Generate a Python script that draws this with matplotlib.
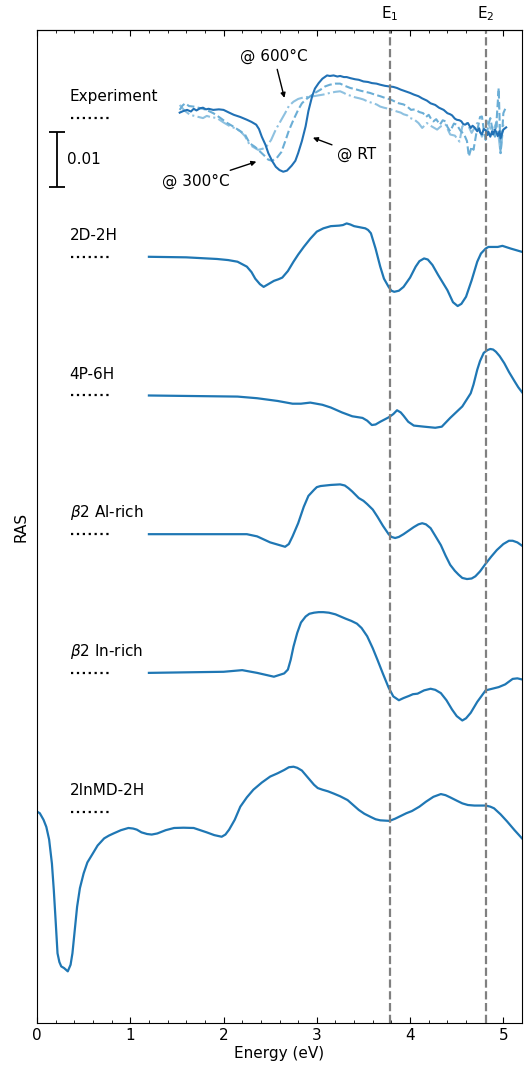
from matplotlib import pyplot as plt
import numpy as np

# RAS values are in units of 1e-3 (scale bar = 0.01 = 10 units)
E1 = 3.78
E2 = 4.81
spacing = 25.35

labels = ["Experiment", "2D-2H", "4P-6H", r"$\beta$2 Al-rich", r"$\beta$2 In-rich", "2InMD-2H"]

# experiment
e_rt = [1.53, 1.57, 1.61, 1.65, 1.68, 1.71, 1.75, 1.78, 1.81, 1.84, 1.89, 1.95, 2.00, 2.06, 2.11,
        2.18, 2.25, 2.30, 2.35, 2.38, 2.41, 2.45, 2.48, 2.52, 2.56, 2.60, 2.64, 2.68, 2.73, 2.77,
        2.80, 2.84, 2.88, 2.91, 2.95, 2.98, 3.02, 3.06, 3.11, 3.14, 3.18, 3.22, 3.25, 3.29, 3.32,
        3.36, 3.41, 3.45, 3.50, 3.55, 3.59, 3.64, 3.68, 3.73, 3.77, 3.82, 3.86, 3.90, 3.95, 4.00,
        4.04, 4.09, 4.13, 4.18, 4.22, 4.27, 4.31, 4.36, 4.40, 4.43, 4.45, 4.48, 4.50, 4.53, 4.55,
        4.57, 4.59, 4.62, 4.65, 4.67, 4.69, 4.72, 4.74, 4.75, 4.77, 4.79, 4.81, 4.83, 4.84, 4.86,
        4.88, 4.89, 4.91, 4.93, 4.94, 4.96, 4.97, 4.99, 5.00, 5.03]
ras_rt = [1.0, 1.3, 1.5, 1.2, 1.7, 1.4, 1.8, 1.9, 1.6, 1.7, 1.5, 1.6, 1.5, 1.0, 0.6,
          0.2, -0.3, -0.7, -1.2, -2.0, -3.4, -4.9, -6.4, -7.8, -8.9, -9.5, -9.8, -9.6, -8.7, -7.8,
          -6.4, -4.2, -1.5, 1.3, 4.0, 5.4, 6.4, 7.2, 7.8, 7.7, 7.8, 7.6, 7.7, 7.5, 7.5,
          7.3, 7.1, 7.0, 6.7, 6.6, 6.4, 6.3, 6.1, 5.9, 5.8, 5.7, 5.5, 5.2, 4.9, 4.6,
          4.3, 4.0, 3.6, 3.2, 2.7, 2.4, 1.9, 1.5, 0.9, 0.7, 0.5, -0.1, -0.3, -0.4, -0.6,
          -1.1, -1.2, -0.9, -1.8, -1.4, -1.7, -2.4, -1.9, -2.6, -3.0, -2.0, -2.2, -3.1, -2.5, -3.4,
          -2.4, -3.0, -2.1, -2.8, -3.3, -2.4, -3.7, -2.6, -2.1, -1.7]

e_300 = [1.53, 1.56, 1.59, 1.63, 1.68, 1.73, 1.78, 1.84, 1.89, 1.96, 2.04, 2.11, 2.18, 2.23, 2.28,
         2.34, 2.39, 2.44, 2.48, 2.52, 2.57, 2.62, 2.66, 2.70, 2.75, 2.80, 2.84, 2.89, 2.93, 2.98,
         3.04, 3.09, 3.14, 3.20, 3.25, 3.30, 3.36, 3.41, 3.47, 3.52, 3.57, 3.62, 3.68, 3.73, 3.79,
         3.84, 3.88, 3.93, 3.97, 4.01, 4.05, 4.10, 4.14, 4.17, 4.20, 4.23, 4.25, 4.28, 4.32, 4.35,
         4.38, 4.40, 4.43, 4.47, 4.50, 4.54, 4.58, 4.61, 4.63, 4.66, 4.68, 4.71, 4.73, 4.75, 4.77,
         4.79, 4.81, 4.84, 4.86, 4.88, 4.91, 4.93, 4.95, 4.97, 4.99, 5.00, 5.03]
ras_300 = [1.5, 2.3, 2.7, 2.2, 2.1, 1.9, 1.7, 1.3, 0.9, 0.1, -0.9, -1.6, -2.4, -3.0, -4.6,
           -5.3, -6.1, -6.9, -7.6, -7.8, -7.3, -6.2, -4.3, -2.3, -0.3, 1.5, 2.7, 3.5, 4.0, 4.6,
           5.2, 5.8, 6.1, 6.3, 6.3, 5.9, 5.5, 5.3, 5.0, 4.8, 4.6, 4.3, 4.0, 3.7, 3.4,
           3.0, 2.7, 2.5, 2.1, 1.5, 1.6, 1.1, 0.9, 0.2, 0.6, -0.3, -0.6, -0.2, -1.2, -0.4,
           -0.6, -1.6, -2.4, -1.0, -1.2, -2.3, -3.0, -4.2, -7.0, -5.2, -5.8, -2.8, -1.5, 0.2, 0.3,
           -2.1, -4.0, -1.2, 0.0, -1.8, -3.4, 0.2, 5.5, -6.4, -2.0, 0.9, 2.1]

e_600 = [1.53, 1.58, 1.64, 1.71, 1.78, 1.82, 1.86, 1.93, 2.00, 2.07, 2.13, 2.18, 2.23, 2.28, 2.33,
         2.37, 2.42, 2.46, 2.51, 2.56, 2.61, 2.66, 2.70, 2.75, 2.80, 2.86, 2.93, 3.00, 3.07, 3.14,
         3.20, 3.25, 3.29, 3.32, 3.36, 3.41, 3.46, 3.50, 3.55, 3.59, 3.64, 3.68, 3.72, 3.77, 3.81,
         3.86, 3.90, 3.93, 3.97, 4.00, 4.04, 4.09, 4.13, 4.18, 4.21, 4.24, 4.29, 4.33, 4.38, 4.43,
         4.48, 4.53, 4.56, 4.61, 4.66, 4.72, 4.77, 4.83, 4.88, 4.93, 4.97, 5.00]
ras_600 = [2.4, 1.4, 0.6, 0.3, 0.0, 0.4, 0.2, 0.0, -0.8, -1.5, -1.9, -2.4, -3.3, -4.9, -5.4,
           -5.8, -5.6, -5.2, -4.0, -2.1, -0.6, 0.9, 2.2, 3.0, 3.5, 3.8, 3.9, 4.1, 4.3, 4.6,
           4.8, 4.9, 4.6, 4.3, 4.1, 3.8, 3.6, 3.4, 3.0, 2.8, 2.5, 2.1, 1.9, 1.7, 1.5,
           1.2, 1.0, 0.7, 0.5, 0.0, -0.2, -0.9, -1.8, -0.9, -1.3, -1.6, -2.1, -1.5, -1.2, -3.0,
           -3.2, -4.3, -1.5, -0.9, -2.7, -0.9, -3.4, -0.6, -2.7, -0.6, -6.4, -1.2]

# theory
e_2d2h = [1.20, 1.60, 1.93, 2.05, 2.15, 2.25, 2.30, 2.34, 2.39, 2.43, 2.47, 2.54, 2.59, 2.63, 2.69,
          2.75, 2.80, 2.86, 2.93, 3.00, 3.07, 3.15, 3.24, 3.28, 3.32, 3.36, 3.40, 3.46, 3.52, 3.55,
          3.58, 3.63, 3.68, 3.72, 3.77, 3.80, 3.83, 3.88, 3.93, 4.00, 4.06, 4.10, 4.15, 4.19, 4.24,
          4.30, 4.40, 4.46, 4.51, 4.55, 4.60, 4.66, 4.72, 4.76, 4.81, 4.84, 4.88, 4.94, 4.99, 5.08,
          5.20]
ras_2d2h = [0.0, -0.1, -0.4, -0.6, -0.9, -1.8, -2.8, -4.0, -5.0, -5.5, -5.1, -4.4, -4.1, -3.8, -2.6,
            -0.9, 0.4, 1.8, 3.3, 4.6, 5.2, 5.6, 5.7, 5.8, 6.1, 5.9, 5.6, 5.4, 5.2, 4.9,
            4.3, 1.5, -1.8, -4.0, -5.5, -6.2, -6.4, -6.2, -5.5, -3.8, -1.8, -0.8, -0.3, -0.5, -1.5,
            -3.3, -6.1, -8.3, -9.0, -8.6, -7.3, -4.3, -0.9, 0.6, 1.5, 1.8, 1.8, 1.8, 2.0, 1.5,
            0.9]

e_4p6h = [1.20, 2.15, 2.36, 2.58, 2.74, 2.83, 2.93, 3.06, 3.15, 3.27, 3.38, 3.49, 3.54, 3.59,
          3.63, 3.68, 3.77, 3.82, 3.86, 3.90, 3.93, 3.98, 4.04, 4.15, 4.27, 4.34, 4.43, 4.56, 4.65,
          4.68, 4.72, 4.75, 4.79, 4.83, 4.86, 4.89, 4.92, 4.96, 5.01, 5.06, 5.12, 5.16, 5.20]
ras_4p6h = [0.0, -0.2, -0.5, -1.0, -1.5, -1.5, -1.3, -1.7, -2.2, -3.1, -3.8, -4.1, -4.6, -5.4,
            -5.3, -4.8, -4.0, -3.4, -2.7, -3.1, -3.7, -4.8, -5.5, -5.7, -5.9, -5.7, -4.1, -2.0, 0.4,
            2.0, 4.7, 6.3, 7.8, 8.3, 8.5, 8.4, 8.0, 7.2, 5.9, 4.3, 2.6, 1.5, 0.6]

e_alrich = [1.20, 2.25, 2.36, 2.50, 2.60, 2.66, 2.70, 2.74, 2.80, 2.86, 2.91, 2.97, 3.00, 3.04,
            3.15, 3.25, 3.30, 3.34, 3.38, 3.45, 3.50, 3.54, 3.60, 3.65, 3.71, 3.77, 3.80, 3.84,
            3.88, 3.93, 4.04, 4.09, 4.13, 4.17, 4.22, 4.27, 4.33, 4.38, 4.43, 4.48, 4.52, 4.56,
            4.61, 4.66, 4.70, 4.75, 4.81, 4.87, 4.93, 5.00, 5.06, 5.10, 5.15, 5.20]
ras_alrich = [0.0, 0.0, -0.4, -1.5, -2.0, -2.3, -1.8, -0.4, 2.0, 5.0, 7.0, 8.1, 8.6, 8.8,
              9.0, 9.1, 8.9, 8.4, 7.8, 6.6, 6.1, 5.5, 4.5, 3.2, 1.5, 0.0, -0.5, -0.7,
              -0.5, 0.0, 1.3, 1.8, 2.0, 1.8, 1.1, -0.3, -2.0, -3.9, -5.6, -6.7, -7.4, -8.0,
              -8.2, -8.1, -7.7, -6.8, -5.4, -4.1, -2.9, -1.8, -1.2, -1.2, -1.5, -2.1]

e_inrich = [1.20, 2.00, 2.20, 2.36, 2.54, 2.65, 2.69, 2.72, 2.75, 2.79, 2.83, 2.88, 2.92, 2.97,
            3.02, 3.07, 3.13, 3.20, 3.31, 3.37, 3.43, 3.48, 3.54, 3.60, 3.65, 3.71, 3.77, 3.82,
            3.88, 3.93, 3.99, 4.03, 4.08, 4.15, 4.22, 4.27, 4.33, 4.39, 4.45, 4.50, 4.56, 4.60,
            4.65, 4.72, 4.81, 4.88, 4.95, 5.02, 5.10, 5.15, 5.20]
ras_inrich = [0.0, 0.2, 0.5, 0.0, -0.7, -0.1, 0.6, 2.4, 4.8, 7.3, 9.2, 10.3, 10.8, 11.0,
              11.1, 11.1, 11.0, 10.7, 9.9, 9.5, 9.0, 8.2, 6.7, 4.5, 2.4, -0.2, -2.7, -4.3,
              -5.0, -4.6, -4.2, -3.9, -3.8, -3.2, -2.9, -3.1, -3.7, -5.0, -6.7, -7.9, -8.7, -8.3,
              -7.3, -5.3, -3.2, -2.9, -2.6, -2.1, -1.1, -1.0, -1.2]

e_2inmd = [0.00, 0.03, 0.07, 0.10, 0.13, 0.16, 0.18, 0.20, 0.22, 0.24, 0.26, 0.29, 0.33, 0.36,
           0.38, 0.40, 0.43, 0.46, 0.50, 0.54, 0.59, 0.65, 0.72, 0.77, 0.82, 0.90, 0.98, 1.03,
           1.07, 1.12, 1.18, 1.23, 1.29, 1.38, 1.47, 1.57, 1.68, 1.75, 1.82, 1.90, 1.98, 2.02,
           2.06, 2.12, 2.18, 2.25, 2.32, 2.41, 2.50, 2.58, 2.65, 2.70, 2.75, 2.79, 2.84, 2.90,
           2.97, 3.01, 3.06, 3.12, 3.18, 3.25, 3.33, 3.39, 3.45, 3.51, 3.58, 3.63, 3.68, 3.78,
           3.84, 3.90, 3.96, 4.02, 4.10, 4.17, 4.25, 4.33, 4.38, 4.43, 4.50, 4.56, 4.62, 4.69,
           4.75, 4.81, 4.86, 4.90, 4.97, 5.04, 5.12, 5.20]
ras_2inmd = [0.0, -0.3, -1.5, -2.8, -5.1, -9.5, -14.3, -20.0, -25.9, -27.5, -28.3, -28.6, -29.2, -28.0,
             -25.9, -22.5, -17.4, -14.0, -11.3, -9.3, -7.9, -6.2, -4.9, -4.4, -4.0, -3.4, -3.0, -3.1,
             -3.3, -3.8, -4.1, -4.2, -4.0, -3.4, -3.0, -2.95, -3.0, -3.4, -3.8, -4.3, -4.6, -4.2,
             -3.3, -1.5, 0.9, 2.6, 4.0, 5.3, 6.4, 7.0, 7.6, 8.1, 8.2, 8.0, 7.5, 6.3,
             4.9, 4.3, 4.0, 3.7, 3.3, 2.8, 2.1, 1.2, 0.3, -0.4, -1.0, -1.4, -1.6, -1.7,
             -1.3, -0.8, -0.3, 0.1, 0.9, 1.8, 2.7, 3.2, 3.0, 2.6, 2.0, 1.5, 1.2, 1.1,
             1.1, 1.1, 0.9, 0.6, -0.5, -1.8, -3.4, -4.9]

theory = [(e_2d2h, ras_2d2h), (e_4p6h, ras_4p6h), (e_alrich, ras_alrich),
          (e_inrich, ras_inrich), (e_2inmd, ras_2inmd)]

fig = plt.figure(figsize=(5.24, 10.68), dpi=100)
ax = fig.add_axes([0.0706, 0.0421, 0.9256, 0.9298])

ax.plot(e_600, ras_600, '-.', color='#8ec1e0', lw=1.5)
ax.plot(e_300, ras_300, '--', color='#6baed6', lw=1.5)
ax.plot(e_rt, ras_rt, '-', color='#2171b5', lw=1.5)

for i, (e, r) in enumerate(theory):
    off = -(i + 1) * spacing
    ax.plot(e, np.array(r) + off, color='#1f77b4', lw=1.6)

for i, lab in enumerate(labels):
    off = -i * spacing
    ax.text(0.35, off + 3.9, lab, fontsize=11, va='center', ha='left')
    ax.hlines(off, 0.36, 0.79, colors='black', linestyles=':', lw=1.6)

ax.axvline(E1, color='gray', ls='--', lw=1.6)
ax.axvline(E2, color='gray', ls='--', lw=1.6)

# scale bar
ax.errorbar([0.215], [-7.6], yerr=5, color='black', capsize=6, lw=1.3, capthick=1.3)
ax.text(0.32, -7.6, '0.01', fontsize=11, va='center', ha='left')

arrow = dict(arrowstyle='-|>', color='black', lw=1.0, mutation_scale=7)
ax.annotate('@ 600°C', xy=(2.66, 3.2), xytext=(2.54, 11.3), fontsize=11,
            ha='center', va='center', arrowprops=arrow)
ax.annotate('@ RT', xy=(2.93, -3.4), xytext=(3.22, -6.6), fontsize=11,
            ha='left', va='center', arrowprops=arrow)
ax.annotate('@ 300°C', xy=(2.38, -7.8), xytext=(2.07, -11.6), fontsize=11,
            ha='right', va='center', arrowprops=arrow)

ax.set_xlim(0, 5.2)
ax.set_ylim(-165.4, 16.1)
ax.set_yticks([])
ax.set_xticks([0, 1, 2, 3, 4, 5])
ax.set_xticks(np.arange(0, 5.21, 0.2), minor=True)
ax.tick_params(which='both', direction='in', top=True, labelsize=11)
ax.tick_params(which='major', length=4.5)
ax.tick_params(which='minor', length=2.5)
ax.set_xlabel('Energy (eV)', fontsize=11, labelpad=2)
ax.set_ylabel('RAS', fontsize=11, labelpad=6)

sec = ax.secondary_xaxis('top')
sec.set_xticks([E1, E2], ['E$_1$', 'E$_2$'])
sec.tick_params(length=0, labelsize=11, pad=5)

plt.savefig('out.png', dpi=100)
plt.close(fig)
